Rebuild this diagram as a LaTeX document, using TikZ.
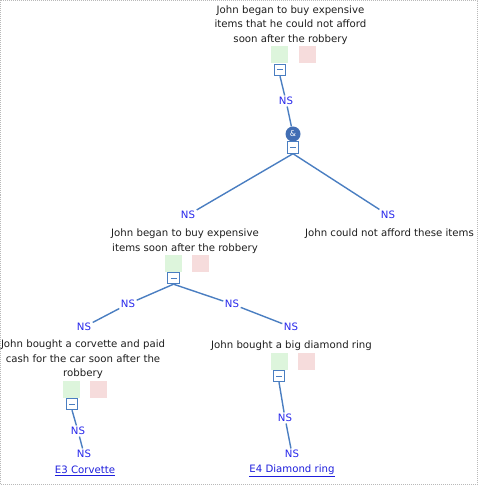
\documentclass[tikz,border=0pt]{standalone}
\usepackage{fontspec}
\setmainfont{DejaVu Sans}
\definecolor{lnblue}{RGB}{74,126,193}
\definecolor{nsblue}{RGB}{40,40,235}
\definecolor{lkblue}{RGB}{30,30,220}
\definecolor{ampblue}{RGB}{66,110,180}
\definecolor{okgreen}{RGB}{221,245,220}
\definecolor{badred}{RGB}{246,220,220}
\definecolor{txt}{RGB}{30,30,30}
\begin{document}
\begin{tikzpicture}[x=1bp,y=-1bp,
  claim/.style={align=center,inner sep=0pt,text=txt,font=\fontsize{10.2}{14.5}\selectfont},
  ns/.style={inner sep=1.5bp,text=nsblue,font=\fontsize{10.2}{12}\selectfont},
  lnk/.style={inner sep=0pt,text=lkblue,font=\fontsize{10.2}{12}\selectfont},
  okbox/.style={fill=okgreen,minimum size=17bp,inner sep=0pt},
  badbox/.style={fill=badred,minimum size=17bp,inner sep=0pt},
  minusbox/.style={draw=lnblue,fill=white,line width=0.9bp,minimum size=11.5bp,inner sep=0pt,
    path picture={\draw[lnblue,line width=1bp] ([xshift=-3bp]path picture bounding box.center) -- ([xshift=3bp]path picture bounding box.center);}},
  amp/.style={circle,fill=ampblue,minimum size=15bp,inner sep=0pt,text=white,font=\fontsize{8}{8}\selectfont},
  conn/.style={draw=lnblue,line width=1.4bp}]
\useasboundingbox (0,0) rectangle (479,486);
\draw[gray!55,line width=1bp,dash pattern=on 1bp off 1bp] (0.5,0.5) rectangle (477.5,484);

% top claim
\node[claim] (c1) at (290.5,25) {John began to buy expensive\\items that he could not afford\\soon after the robbery};
\node[okbox] (g1) at (279.5,54.5) {};
\node[badbox] (r1) at (307,54.5) {};
\node[minusbox] (m1) at (280,70) {};
\node[ns] (ns1) at (286,101) {NS};
\node[amp] (a1) at (293,134) {\&};
\node[minusbox] (ma) at (293,147.5) {};
\node[ns] (ns2) at (188,215) {NS};
\node[ns] (ns3) at (388,215) {NS};

% second level
\node[claim] (c2) at (185,241) {John began to buy expensive\\items soon after the robbery};
\node[claim] (c5) at (389.5,234) {John could not afford these items};
\node[okbox] (g2) at (173.5,263.5) {};
\node[badbox] (r2) at (200.5,263.5) {};
\node[minusbox] (m2) at (173.5,278) {};
\node[ns] (ns4) at (128,304) {NS};
\node[ns] (ns5) at (232,304) {NS};
\node[ns] (ns6) at (84,327) {NS};
\node[ns] (ns7) at (291,327) {NS};

% third level left
\node[claim] (c3) at (83,359.5) {John bought a corvette and paid\\cash for the car soon after the\\robbery};
\node[okbox] (g3) at (71.5,389.5) {};
\node[badbox] (r3) at (98.5,389.5) {};
\node[minusbox] (m3) at (72,404) {};
\node[ns] (ns8) at (78,431) {NS};
\node[ns] (ns9) at (84,454) {NS};
\node[lnk] (l3) at (85,471) {\underline{E3 Corvette}};

% third level right
\node[claim] (c4) at (291.5,346) {John bought a big diamond ring};
\node[okbox] (g4) at (279.5,361) {};
\node[badbox] (r4) at (306.5,361) {};
\node[minusbox] (m4) at (279,376) {};
\node[ns] (ns10) at (285,418) {NS};
\node[ns] (ns11) at (292,454) {NS};
\node[lnk] (l4) at (292,471) {\underline{E4 Diamond ring}};

% connectors
\draw[conn] (m1.south) -- (ns1);
\draw[conn] (ns1) -- (a1);
\draw[conn] (ma.south) -- (ns2);
\draw[conn] (ma.south) -- (ns3);
\draw[conn] (m2.south) -- (ns4);
\draw[conn] (ns4) -- (ns6);
\draw[conn] (m2.south) -- (ns5);
\draw[conn] (ns5) -- (ns7);
\draw[conn] (m3.south) -- (ns8);
\draw[conn] (ns8) -- (ns9);
\draw[conn] (m4.south) -- (ns10);
\draw[conn] (ns10) -- (ns11);
\end{tikzpicture}
\end{document}
